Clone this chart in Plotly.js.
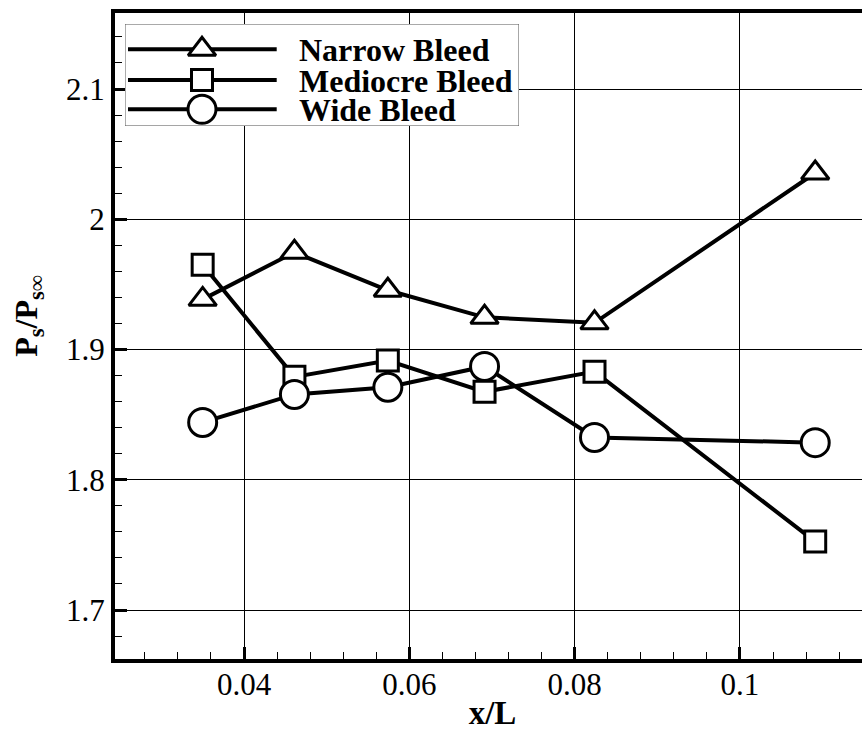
<!DOCTYPE html>
<html>
<head>
<meta charset="utf-8">
<script src="https://cdn.plot.ly/plotly-3.0.1.min.js"></script>
<style>
  html, body { margin: 0; padding: 0; overflow: hidden; background: #fff; }
  #chart { width: 880px; height: 731px; }
</style>
</head>
<body>
<div id="chart"></div>
<script>
// ---- data ----
const xPositions = [0.035, 0.0461, 0.0574, 0.0691, 0.0824, 0.1091];
const narrowBleed = [1.9385, 1.9746, 1.9455, 1.9247, 1.9205, 2.0355];
const mediocreBleed = [1.965, 1.879, 1.8915, 1.8675, 1.883, 1.7525];
const wideBleed = [1.844, 1.8655, 1.871, 1.887, 1.8325, 1.8285];
const seriesNames = ["Narrow Bleed", "Mediocre Bleed", "Wide Bleed"];
const xTitle = "x/L";
const yTitle = "P<sub>s</sub>/P<sub>s\u221e</sub>";

// ---- styles ----
const serif = "Liberation Serif";
const symbols = ["triangle-up", "square", "circle"];
const sizes = [24, 21, 28];
const seriesValues = [narrowBleed, mediocreBleed, wideBleed];

const traces = seriesValues.map((vals, i) => ({
  type: "scatter",
  mode: "lines+markers",
  x: xPositions,
  y: vals,
  name: seriesNames[i],
  line: { color: "#000", width: 4 },
  marker: { symbol: symbols[i], size: sizes[i], color: "#fff", line: { color: "#000", width: 3 } },
  showlegend: false,
  xaxis: "x", yaxis: "y"
}));

// ---- custom legend in its own small subplot (units = pixels inside the box) ----
const boxW = 394, boxH = 102;
const rowY = [25.3, 56, 85.3];
traces.push({
  type: "scatter", mode: "lines",
  x: [0, boxW, boxW, 0, 0], y: [0, 0, boxH, boxH, 0],
  fill: "toself", fillcolor: "#fff",
  line: { color: "#555", width: 1 },
  xaxis: "x2", yaxis: "y2", showlegend: false, hoverinfo: "skip"
});
seriesNames.forEach((n, i) => {
  traces.push({
    type: "scatter", mode: "lines",
    x: [3, 151.7], y: [rowY[i], rowY[i]],
    line: { color: "#000", width: 4 },
    xaxis: "x2", yaxis: "y2", showlegend: false, hoverinfo: "skip"
  });
  traces.push({
    type: "scatter", mode: "markers",
    x: [77], y: [rowY[i]],
    marker: { symbol: symbols[i], size: sizes[i], color: "#fff", line: { color: "#000", width: 3 } },
    xaxis: "x2", yaxis: "y2", showlegend: false, hoverinfo: "skip"
  });
});
const legendAnnotations = seriesNames.map((n, i) => ({
  xref: "x2", yref: "y2", x: 173, y: rowY[i] + 1,
  xanchor: "left", yanchor: "middle",
  height: 28, valign: "middle", borderpad: 0,
  text: "<b>" + n + "</b>", showarrow: false,
  font: { family: serif, size: 32, color: "#000" }
}));

const layout = {
  width: 880, height: 731, autosize: false,
  margin: { l: 115, r: 10, t: 13, b: 72 },
  paper_bgcolor: "#fff", plot_bgcolor: "rgba(0,0,0,0)",
  showlegend: false,
  font: { family: serif, color: "#000", size: 30 },
  xaxis: {
    range: [0.024395, 0.115728],
    tick0: 0, dtick: 0.02,
    ticks: "inside", ticklen: 12, tickwidth: 3, tickcolor: "#000",
    showline: true, linewidth: 4, linecolor: "#000", mirror: true,
    showgrid: true, gridcolor: "#000", gridwidth: 1, zeroline: false,
    tickfont: { family: serif, size: 31, color: "#000" },
    ticklabelstandoff: -5,
    minor: { dtick: 0.004, tick0: 0, ticks: "inside", ticklen: 7, tickwidth: 1, tickcolor: "#000", showgrid: false },
    title: { text: "<b>" + xTitle + "</b>", font: { family: serif, size: 33, color: "#000" }, standoff: 16 }
  },
  yaxis: {
    range: [1.66238, 2.15835],
    tick0: 0, dtick: 0.1,
    ticks: "inside", ticklen: 12, tickwidth: 3, tickcolor: "#000",
    showline: true, linewidth: 4, linecolor: "#000", mirror: true,
    showgrid: true, gridcolor: "#000", gridwidth: 1, zeroline: false,
    tickfont: { family: serif, size: 31, color: "#000" },
    minor: { dtick: 0.02, tick0: 0, ticks: "inside", ticklen: 7, tickwidth: 1, tickcolor: "#000", showgrid: false },
    title: { text: "<b>\u00a0\u00a0\u00a0\u00a0\u00a0" + yTitle + "</b>", font: { family: serif, size: 32, color: "#000" }, standoff: 20 }
  },
  xaxis2: { domain: [0.013245, 0.5351], range: [0, boxW], anchor: "y2", visible: false, fixedrange: true },
  yaxis2: { domain: [0.8251, 0.98297], range: [boxH, 0], anchor: "x2", visible: false, fixedrange: true },
  annotations: legendAnnotations
};

Plotly.newPlot("chart", traces, layout, { displayModeBar: false, staticPlot: true });
</script>
</body>
</html>
